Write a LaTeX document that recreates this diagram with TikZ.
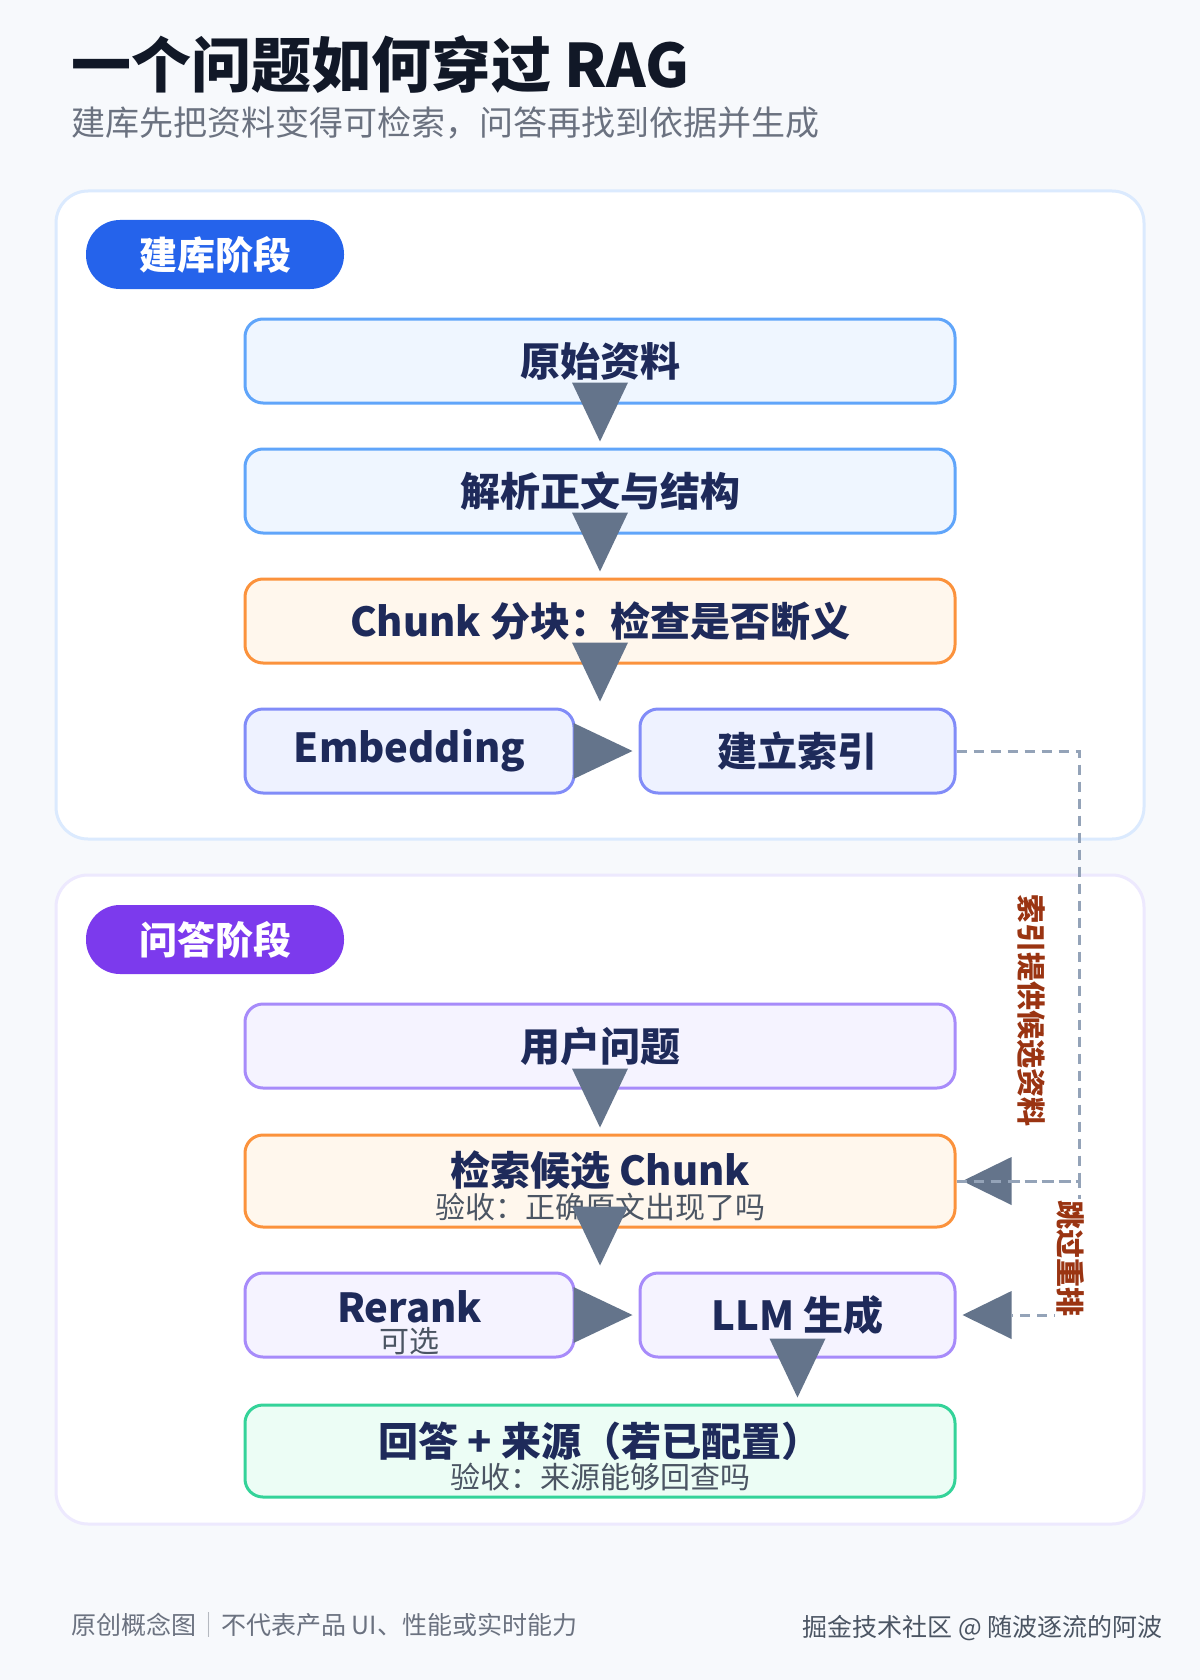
\documentclass[tikz,border=0pt]{standalone}
\usepackage{fontspec}
\setmainfont{Noto Sans CJK SC}
\usetikzlibrary{arrows.meta}
\definecolor{bgc}{HTML}{F7F9FC}
\definecolor{titlec}{HTML}{111827}
\definecolor{subc}{HTML}{6B7280}
\definecolor{navy}{HTML}{1E2A5A}
\definecolor{graytxt}{HTML}{4B5563}
\definecolor{tric}{HTML}{64748B}
\definecolor{dashc}{HTML}{94A3B8}
\definecolor{lblc}{HTML}{9A3412}
\definecolor{pOneBorder}{HTML}{DBEAFE}
\definecolor{pTwoBorder}{HTML}{EDE9FE}
\definecolor{pillblue}{HTML}{2563EB}
\definecolor{pillpurple}{HTML}{7C3AED}
\definecolor{bluefill}{HTML}{EFF6FF}
\definecolor{blueline}{HTML}{60A5FA}
\definecolor{orangefill}{HTML}{FFF7ED}
\definecolor{orangeline}{HTML}{FB923C}
\definecolor{indigofill}{HTML}{EEF2FF}
\definecolor{indigoline}{HTML}{818CF8}
\definecolor{violetfill}{HTML}{F5F3FF}
\definecolor{violetline}{HTML}{A78BFA}
\definecolor{greenfill}{HTML}{ECFDF5}
\definecolor{greenline}{HTML}{34D399}
\newcommand\myfs[1]{\fontsize{#1}{#1}\selectfont}
\tikzset{
  panel/.style={rounded corners=32pt, line width=3pt, fill=white},
  pill/.style={rounded corners=34pt, minimum width=258pt, minimum height=69pt, text=white, font=\bfseries\myfs{38}, inner sep=0pt},
  box/.style={rounded corners=18pt, line width=3pt, minimum height=84pt, inner sep=0pt, font=\bfseries\myfs{40}, text=navy},
  bluebox/.style={box, draw=blueline, fill=bluefill},
  orangebox/.style={box, draw=orangeline, fill=orangefill},
  indigobox/.style={box, draw=indigoline, fill=indigofill},
  violetbox/.style={box, draw=violetline, fill=violetfill},
  greenbox/.style={box, draw=greenline, fill=greenfill},
  maintxt/.style={font=\bfseries\myfs{40}, text=navy, inner sep=0pt},
  subt/.style={font=\myfs{30}, text=graytxt, inner sep=0pt},
  flow/.style={draw=tric, line width=1pt, -{Triangle[length=59pt,width=56pt,line width=0pt]}, shorten >=6pt},
  dashflow/.style={draw=dashc, line width=3pt, dash pattern=on 10pt off 7pt, -{Triangle[length=49pt,width=48pt,line width=0pt,color=tric]}, shorten >=6pt},
  elabel/.style={text=lblc, font=\bfseries\myfs{29}, inner sep=0pt, rotate=-90}
}
\begin{document}
\begin{tikzpicture}[x=1pt,y=-1pt]
\useasboundingbox (0,0) rectangle (1200,1680);
\fill[bgc] (0,0) rectangle (1200,1680);

% title
\node[anchor=west, font=\bfseries\myfs{60}, text=titlec, inner sep=0pt] (title) at (71,64) {一个问题如何穿过 RAG};
\node[anchor=west, font=\myfs{34}, text=subc, inner sep=0pt] (subtitle) at (71,123) {建库先把资料变得可检索，问答再找到依据并生成};

% panels
\draw[panel, draw=pOneBorder] (56,191) rectangle (1144,839);
\draw[panel, draw=pTwoBorder] (56,875) rectangle (1144,1524);

% pills
\node[pill, fill=pillblue] (pillA) at (215,254.5) {建库阶段};
\node[pill, fill=pillpurple] (pillB) at (215,939.5) {问答阶段};

% build stage
\node[bluebox, minimum width=710pt] (raw) at (600,361) {原始资料};
\node[bluebox, minimum width=710pt] (parse) at (600,491) {解析正文与结构};
\node[orangebox, minimum width=710pt] (chunk) at (600,621) {Chunk 分块：检查是否断义};
\node[indigobox, minimum width=329pt] (embed) at (409.5,751) {Embedding};
\node[indigobox, minimum width=315pt] (index) at (797.5,751) {建立索引};

% QA stage
\node[violetbox, minimum width=710pt] (user) at (600,1046) {用户问题};
\node[orangebox, minimum width=710pt, minimum height=92pt] (retr) at (600,1181) {};
\node[maintxt] (retrT) at (600,1170) {检索候选 Chunk};
\node[subt] (retrS) at (600,1207) {验收：正确原文出现了吗};
\node[violetbox, minimum width=329pt] (rerank) at (409.5,1315) {};
\node[maintxt] (rerankT) at (409.5,1307) {Rerank};
\node[subt] (rerankS) at (409.5,1341) {可选};
\node[violetbox, minimum width=315pt] (llm) at (797.5,1315) {LLM 生成};
\node[greenbox, minimum width=710pt, minimum height=92pt] (ans) at (600,1451) {};
\node[maintxt] (ansT) at (600,1441) {回答 + 来源（若已配置）};
\node[subt] (ansS) at (600,1477) {验收：来源能够回查吗};

% dashed connectors
\coordinate (jA) at (1079,751);
\coordinate (jB) at (1079,1181);
\coordinate (jC) at (1079,1315);
\draw[dashflow] (index.east) -- (jA) -- (jB) -- (retr.east);
\draw[dashflow] (retr.east) -- (jB) -- (jC) -- (llm.east);
\node[elabel] (lblA) at (1031,1010) {索引提供候选资料};
\node[elabel, fill=white, inner sep=1pt] (lblB) at (1070,1258) {跳过重排};

% flows
\draw[flow] (raw.south) -- (parse.north);
\draw[flow] (parse.south) -- (chunk.north);
\draw[flow] (chunk.south) -- (chunk.south |- embed.north);
\draw[flow] (embed.east) -- (index.west);
\draw[flow] (user.south) -- (retr.north);
\draw[flow] (retr.south) -- (retr.south |- rerank.north);
\draw[flow] (rerank.east) -- (llm.west);
\draw[flow] (llm.south) -- (llm.south |- ans.north);

% footer
\node[anchor=west, font=\myfs{25}, text=subc, inner sep=0pt] (footL) at (71,1625) {原创概念图\textcolor{subc!50}{｜}不代表产品 UI、性能或实时能力};
\node[anchor=east, font=\myfs{25}, text=graytxt, inner sep=0pt] (footR) at (1163,1628) {掘金技术社区 @ 随波逐流的阿波};
\end{tikzpicture}
\end{document}
